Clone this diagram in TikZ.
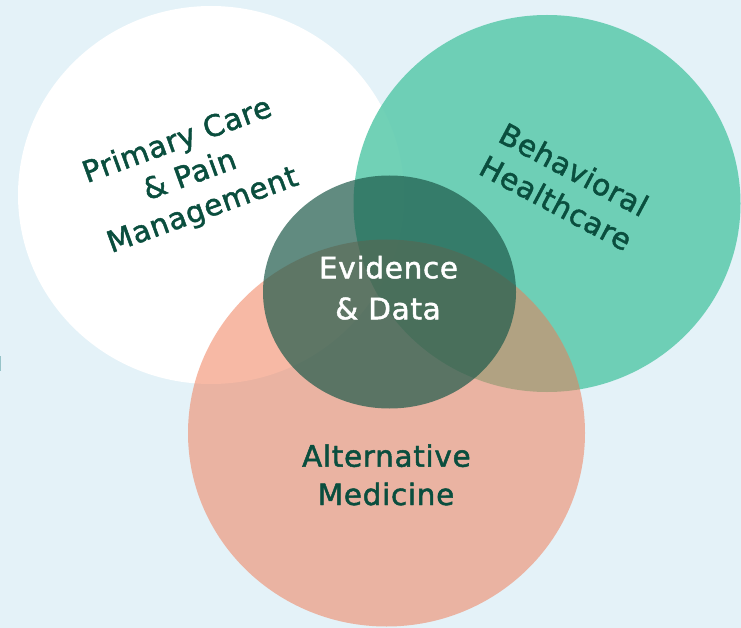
\documentclass[tikz,border=0pt]{standalone}
\usepackage{fontspec}
\setmainfont{DejaVu Sans}[LetterSpace=2.3,FakeBold=1.6]
\usetikzlibrary{shapes.geometric}
\definecolor{bgblue}{RGB}{228,242,248}
\definecolor{txtgreen}{RGB}{10,78,62}
\definecolor{mint}{RGB}{98,204,175}
\definecolor{salmon}{RGB}{240,122,84}
\definecolor{deepgreen}{RGB}{30,90,75}
\definecolor{edgemark}{RGB}{150,195,200}
\tikzset{
  blob/.style={ellipse, draw=none, inner sep=0pt},
  lbl/.style={anchor=base, text=txtgreen, font=\fontsize{29.5}{36}\selectfont, inner sep=0pt},
}
\begin{document}
\begin{tikzpicture}[x=1pt,y=-1pt]
\fill[bgblue] (0,0) rectangle (741,628);
\useasboundingbox (0,0) rectangle (741,628);
\fill[edgemark] (0,356) rectangle (1.2,371);
\node[blob, fill=white, minimum width=386pt, minimum height=378pt] (white) at (211,195) {};
\node[blob, fill=mint, fill opacity=0.9, minimum width=387pt, minimum height=377pt] (green) at (547,203.5) {};
\node[blob, fill=salmon, fill opacity=0.52, minimum width=397pt, minimum height=387pt] (pink) at (386.5,433) {};
\node[blob, fill=deepgreen, fill opacity=0.7, minimum width=253pt, minimum height=233pt] (core) at (389.5,292) {};
\node[lbl, rotate=20] (pc1) at (180.3,149.2) {Primary Care};
\node[lbl, rotate=20] (pc2) at (193,184) {\& Pain};
\node[lbl, rotate=20] (pc3) at (205.7,218.8) {Management};
\node[lbl, rotate=-28] (bh1) at (568.8,179.2) {Behavioral};
\node[lbl, rotate=-28] (bh2) at (550.9,212.5) {Healthcare};
\node[lbl, text=white] (ed1) at (388.5,278.3) {Evidence};
\node[lbl, text=white] (ed2) at (388,319.3) {\& Data};
\node[lbl] (am1) at (386.4,466.7) {Alternative};
\node[lbl] (am2) at (386,505) {Medicine};
\end{tikzpicture}
\end{document}
